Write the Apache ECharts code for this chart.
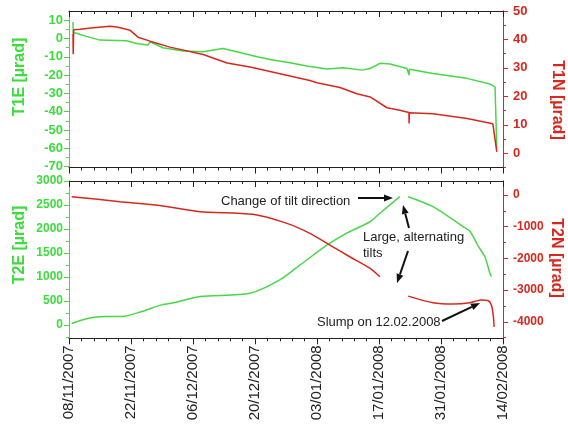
<!DOCTYPE html>
<html>
<head>
<meta charset="utf-8">
<script src="https://cdn.jsdelivr.net/npm/echarts@6/dist/echarts.min.js"></script>
<style>
  html, body { margin: 0; padding: 0; background: #fff; }
  #chart { width: 568px; height: 428px; }
</style>
</head>
<body>
<div id="chart"></div>
<script>
// x values are days since 08/11/2007
const dateLabels = ['08/11/2007', '22/11/2007', '06/12/2007', '20/12/2007', '03/01/2008', '17/01/2008', '31/01/2008', '14/02/2008'];

// top panel: T1E (left axis) and T1N (right axis)
const t1eDays = [0.9, 0.95, 1.6, 2.5, 4.7, 7.0, 13.0, 15.3, 17.8, 18.3, 21.2, 25.7, 30.3, 31.2, 34.8, 37.9, 42.5, 45.4, 49.9, 53.7, 58.3, 61.9, 66.2, 68.0, 70.2, 72.5, 76.3, 76.75, 76.8, 76.85, 82.2, 89.8, 95.1, 96.2, 96.6];
const t1eVals = [9, 3, 3, 2.2, 0.6, -0.9, -1.3, -2.7, -3.6, -1.8, -5.1, -6.9, -7.3, -6.9, -5.5, -7.3, -10, -11.5, -13.3, -15.1, -16.7, -16, -17.3, -16.4, -13.6, -14, -16.4, -16.6, -20, -16.8, -19.1, -21.8, -24.9, -26.4, -60];

const t1nDays = [0.9, 0.95, 1.05, 2.5, 5.5, 9.3, 11.1, 13.8, 15.6, 18.3, 22.8, 30.3, 35.7, 40.9, 54.4, 56.0, 61.2, 65.0, 68.0, 71.8, 74.7, 76.75, 76.8, 76.85, 82.2, 89.9, 95.7, 96.6];
const t1nVals = [42, 34.8, 43.4, 43.6, 44.1, 44.6, 44.3, 43.2, 40.8, 39.4, 37.3, 34.7, 31.7, 30.3, 25.6, 24.8, 23.1, 20.9, 19.8, 16.0, 15.1, 14.3, 10.5, 14.2, 13.9, 12.2, 10.4, 0.5];

// bottom panel: T2E (left axis) and T2N (right axis); null = gap
const t2eDays = [0.6, 4.4, 8.1, 11.9, 16.4, 20.9, 23.9, 29.6, 40.9, 47.6, 52.2, 58.3, 62.8, 68.0, 70.2, 74.7, 75.6, 76.6, 82.2, 89.0, 90.5, 92.3, 93.9, 95.1, 95.4];
const t2eVals = [30, 140, 174, 174, 277, 417, 465, 590, 660, 937, 1250, 1667, 1917, 2150, 2327, 2673, null, 2673, 2465, 2048, 1958, 1660, 1420, 1060, 1006];

const t2nDays = [0.6, 11.5, 20.5, 29.6, 41.5, 49.2, 54.4, 58.9, 63.4, 68.0, 70.2, 73.0, 76.6, 82.2, 86.7, 90.5, 93.0, 94.6, 95.4, 95.8, 96.0];
const t2nVals = [-53, -211, -330, -527, -610, -895, -1210, -1579, -1948, -2316, -2580, null, -3190, -3400, -3440, -3400, -3310, -3330, -3480, -3800, -4160];

const t1eMajor = [-70, -60, -50, -40, -30, -20, -10, 0, 10];
const t1eMinor = [-65, -55, -45, -35, -25, -15, -5, 5];
const t1nMajor = [0, 10, 20, 30, 40, 50];
const t1nMinor = [-5, 5, 15, 25, 35, 45];
const t2eMajor = [0, 500, 1000, 1500, 2000, 2500, 3000];
const t2eMinor = [-250, 250, 750, 1250, 1750, 2250, 2750];
const t2nMajor = [-4000, -3000, -2000, -1000, 0];
const t2nMinor = [-4500, -3500, -2500, -1500, -500];

const GREEN = '#47d847';
const GREEN_TXT = '#3ddc3d';
const RED = '#d8281e';
const BLACK = '#222';

const zip = (xs, ys) => xs.map((x, i) => [x, ys[i]]);

function xAxisDef(grid, pos, inside, labels) {
  return {
    type: 'value', gridIndex: grid, position: pos, min: 0, max: 98, interval: 14,
    axisLine: { show: true, onZero: false, lineStyle: { color: BLACK, width: 1 } },
    axisTick: { show: true, inside: inside, length: 6, lineStyle: { color: BLACK } },
    minorTick: { show: true, splitNumber: 5, length: 3, lineStyle: { color: BLACK } },
    splitLine: { show: false },
    axisLabel: labels ? {
      show: true, rotate: 90, margin: 7, color: BLACK,
      fontFamily: 'Liberation Sans, Arial', fontSize: 15,
      formatter: v => dateLabels[Math.round(v / 14)] || ''
    } : { show: false }
  };
}

function yAxisDef(grid, pos, min, max, color, ticks, len, labels, fs) {
  return {
    type: 'value', gridIndex: grid, position: pos, min: min, max: max,
    axisLine: { show: true, onZero: false, lineStyle: { color: color, width: 1 } },
    axisTick: { show: true, length: len, customValues: ticks, lineStyle: { color: color } },
    splitLine: { show: false },
    axisLabel: labels ? {
      show: true, customValues: ticks, color: pos === 'left' ? GREEN_TXT : RED,
      fontWeight: 'bold', fontFamily: 'Liberation Sans, Arial', fontSize: fs,
      margin: pos === 'left' ? 6 : 10,
      formatter: v => String(v)
    } : { show: false }
  };
}

function arrow(x1, y1, x2, y2) {
  const a = Math.atan2(y2 - y1, x2 - x1);
  const L = 9, W = 3.5;
  const bx = x2 - L * Math.cos(a), by = y2 - L * Math.sin(a);
  const px = -Math.sin(a) * W, py = Math.cos(a) * W;
  return [
    { type: 'line', shape: { x1: x1, y1: y1, x2: bx, y2: by }, style: { stroke: '#111', lineWidth: 2 } },
    { type: 'polygon', shape: { points: [[x2, y2], [bx + px, by + py], [bx - px, by - py]] }, style: { fill: '#111' } }
  ];
}

function txt(x, y, s) {
  return {
    type: 'text', x: x, y: y,
    style: { text: s, fill: BLACK, font: '13px "Liberation Sans", Arial', align: 'left', verticalAlign: 'middle' }
  };
}

function title(x, y, s, color, rot) {
  return {
    type: 'text', x: x, y: y, rotation: rot,
    style: { text: s, fill: color, font: 'bold 16px "Liberation Sans", Arial', align: 'center', verticalAlign: 'middle' }
  };
}

const chart = echarts.init(document.getElementById('chart'));
chart.setOption({
  animation: false,
  grid: [
    { left: 69, right: 65, top: 11, height: 156.5 },
    { left: 69, right: 65, top: 181, height: 157.3 }
  ],
  xAxis: [
    xAxisDef(0, 'bottom', false, false),
    xAxisDef(0, 'top', true, false),
    xAxisDef(1, 'top', true, false),
    xAxisDef(1, 'bottom', false, true)
  ],
  yAxis: [
    yAxisDef(0, 'left', -70.5, 15, GREEN, t1eMajor, 5, true, 13),
    yAxisDef(0, 'left', -70.5, 15, GREEN, t1eMinor, 3, false),
    yAxisDef(0, 'right', -5, 50, RED, t1nMajor, 5, true, 13),
    yAxisDef(0, 'right', -5, 50, RED, t1nMinor, 3, false),
    yAxisDef(1, 'left', -280, 3000, GREEN, t2eMajor, 5, true, 12),
    yAxisDef(1, 'left', -280, 3000, GREEN, t2eMinor, 3, false),
    yAxisDef(1, 'right', -4520, 440, RED, t2nMajor, 5, true, 12),
    yAxisDef(1, 'right', -4520, 440, RED, t2nMinor, 3, false)
  ],
  series: [
    { name: 'T1E', type: 'line', xAxisIndex: 0, yAxisIndex: 0, data: zip(t1eDays, t1eVals),
      showSymbol: false, lineStyle: { color: GREEN, width: 1.5 }, itemStyle: { color: GREEN } },
    { name: 'T1N', type: 'line', xAxisIndex: 0, yAxisIndex: 2, data: zip(t1nDays, t1nVals),
      showSymbol: false, lineStyle: { color: RED, width: 1.5 }, itemStyle: { color: RED } },
    { name: 'T2E', type: 'line', xAxisIndex: 3, yAxisIndex: 4, data: zip(t2eDays, t2eVals),
      showSymbol: false, smooth: 0.25, connectNulls: false, lineStyle: { color: GREEN, width: 1.5 }, itemStyle: { color: GREEN } },
    { name: 'T2N', type: 'line', xAxisIndex: 3, yAxisIndex: 6, data: zip(t2nDays, t2nVals),
      showSymbol: false, smooth: 0.25, connectNulls: false, lineStyle: { color: RED, width: 1.5 }, itemStyle: { color: RED } }
  ],
  graphic: [
    title(20, 77, 'T1E [µrad]', GREEN_TXT, Math.PI / 2),
    title(557, 100, 'T1N [µrad]', RED, -Math.PI / 2),
    title(20, 245, 'T2E [µrad]', GREEN_TXT, Math.PI / 2),
    title(556, 258, 'T2N [µrad]', RED, -Math.PI / 2),
    txt(221, 201, 'Change of tilt direction'),
    txt(363, 237, 'Large, alternating'),
    txt(363, 253, 'tilts'),
    txt(317, 322, 'Slump on 12.02.2008'),
    ...arrow(358, 198, 393, 198),
    ...arrow(409, 228, 403, 205),
    ...arrow(408, 251, 397, 283),
    ...arrow(442, 321, 480, 303)
  ]
});
</script>
</body>
</html>
